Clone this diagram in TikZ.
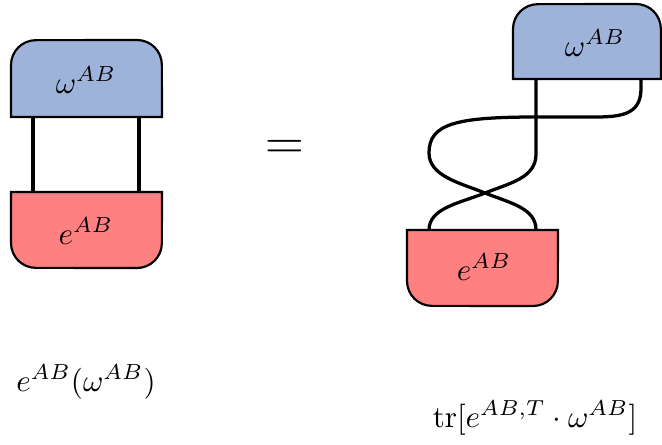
\documentclass[tikz,border=0pt]{standalone}
\begin{document}
\begin{tikzpicture}[x=0.322pt,y=0.322pt,
  boxline/.style={draw=black,line width=0.7pt},
  wire/.style={draw=black,line width=1.05pt},
  lbl/.style={inner sep=0pt}]
\definecolor{omegablue}{RGB}{157,179,217}
\definecolor{ered}{RGB}{255,128,128}
\useasboundingbox (0,0) rectangle (662,444);
% ---------- left diagram ----------
\path[boxline,fill=omegablue] (11,327) -- (11,379) arc[start angle=180,end angle=90,radius=8pt]
  -- (137,404) arc[start angle=90,end angle=0,radius=8pt] -- (162,327) -- cycle;
\path[boxline,fill=ered] (11,252) -- (11,201) arc[start angle=180,end angle=270,radius=8pt]
  -- (137,176) arc[start angle=270,end angle=360,radius=8pt] -- (162,252) -- cycle;
\node[lbl] (wl) at (86,364) {$\omega^{AB}$};
\node[lbl] (el) at (86,213) {$e^{AB}$};
\coordinate (wl1) at (33,327);
\coordinate (wl2) at (139,327);
\coordinate (el1) at (33,252);
\coordinate (el2) at (139,252);
\draw[wire] (wl1) -- (el1);
\draw[wire] (wl2) -- (el2);
% ---------- equals ----------
\node (eq) at (285,294) {\LARGE $=$};
% ---------- right diagram ----------
\path[boxline,fill=omegablue] (513,365) -- (513,415) arc[start angle=180,end angle=90,radius=8pt]
  -- (636,440) arc[start angle=90,end angle=0,radius=8pt] -- (661,365) -- cycle;
\path[boxline,fill=ered] (407,214) -- (407,163) arc[start angle=180,end angle=270,radius=8pt]
  -- (533,138) arc[start angle=270,end angle=360,radius=8pt] -- (558,214) -- cycle;
\node[lbl] (wr) at (595,401) {$\omega^{AB}$};
\node[lbl] (er) at (484,177) {$e^{AB}$};
\coordinate (wr1) at (536,365);
\coordinate (wr2) at (641,365);
\coordinate (er1) at (429,214);
\coordinate (er2) at (536,214);
\draw[wire] (wr1) -- (536,290) .. controls (536,266) and (510,261) .. (485,251)
  .. controls (460,241) and (429,236) .. (er1);
\draw[wire] (wr2) -- (641,356) .. controls (641,332) and (626,327) .. (596,327)
  -- (536,327) .. controls (455,327) and (429,320) .. (429,291)
  .. controls (429,268) and (460,261) .. (485,251)
  .. controls (510,241) and (536,236) .. (er2);
% ---------- formulas ----------
\node (fl) at (86,62) {$e^{AB}(\omega^{AB})$};
\node (fr) at (535,26) {$\mathrm{tr}[e^{AB,T}\cdot\omega^{AB}]$};
\end{tikzpicture}
\end{document}
